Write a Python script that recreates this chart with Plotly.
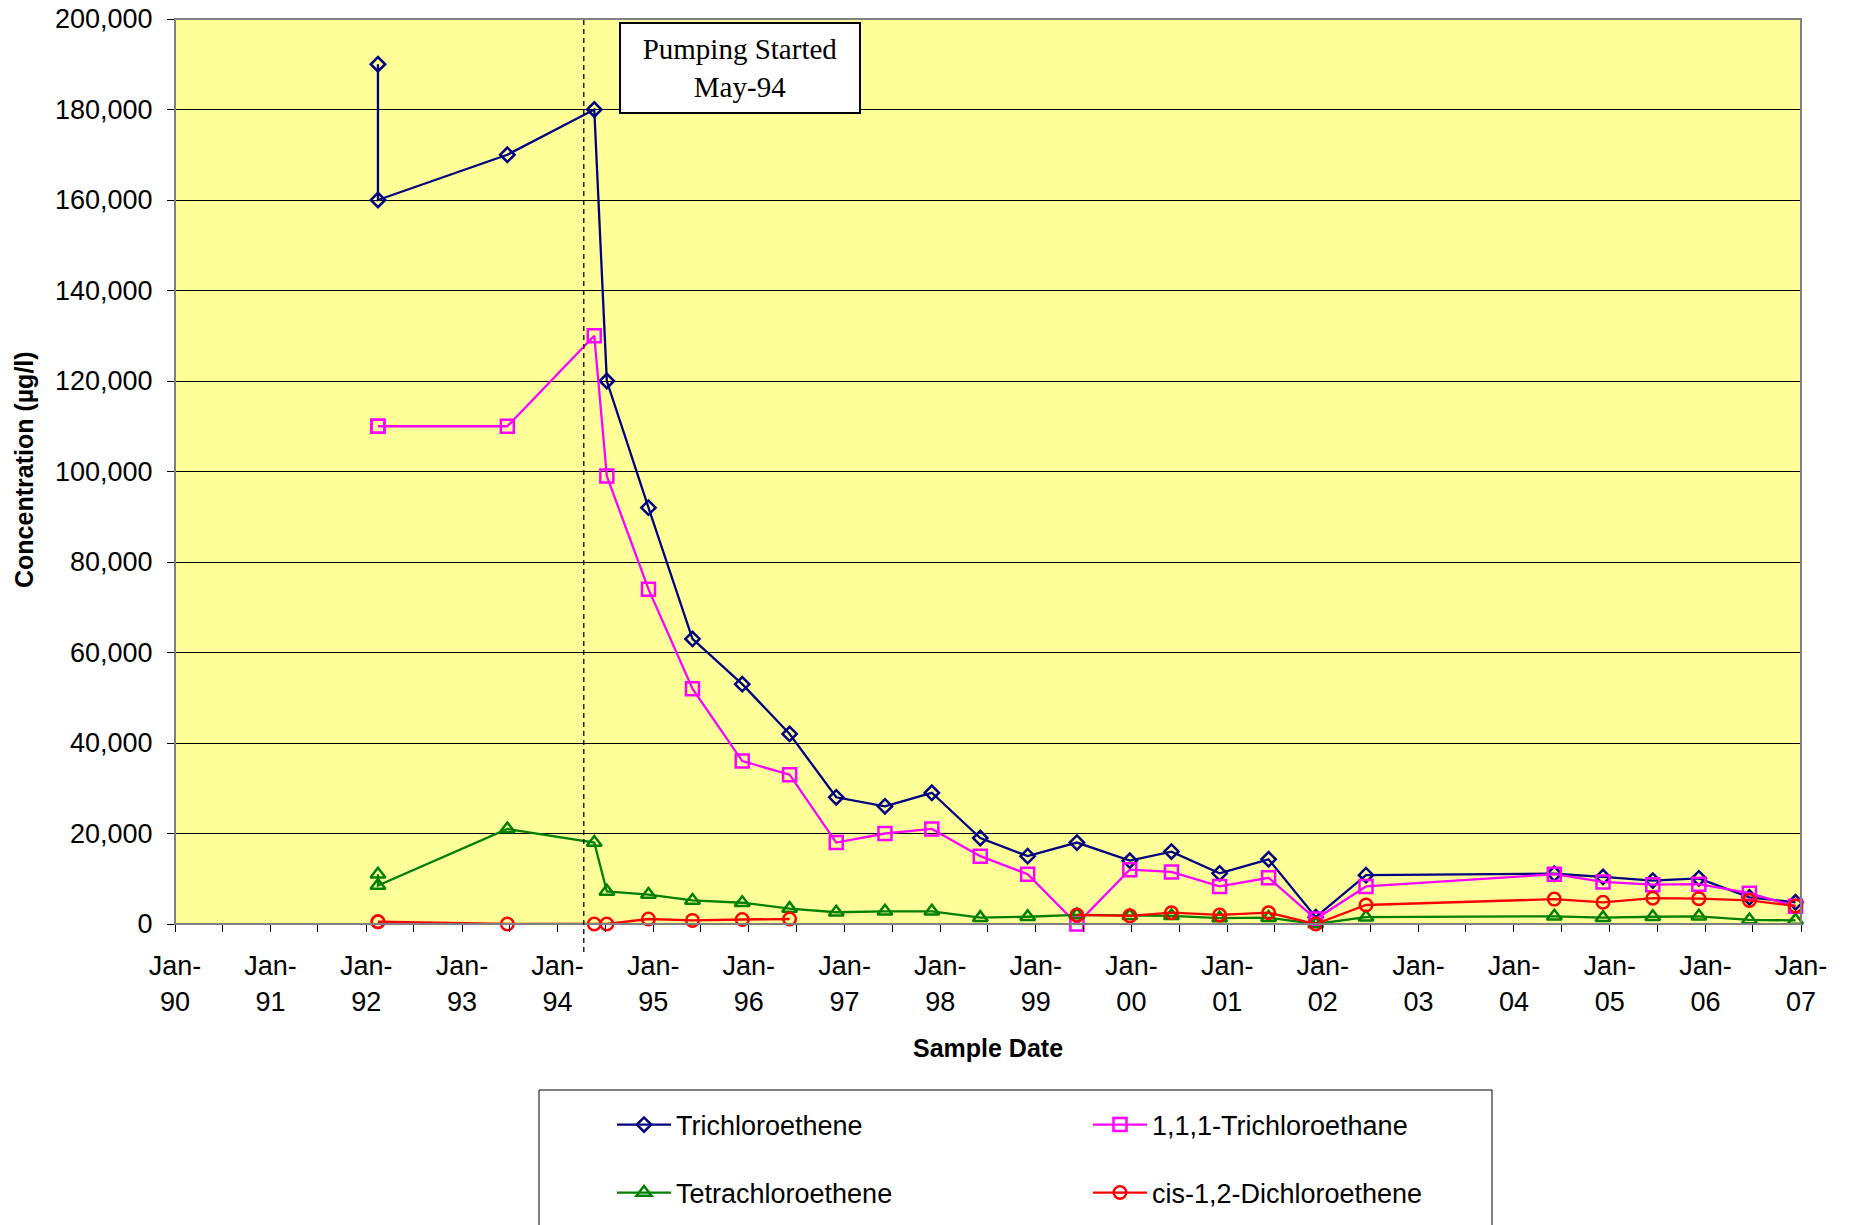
import plotly.graph_objects as go

# ---- data ----
sample_dates = [
    "1992-02-15", "1992-02-15", "1993-06-23", "1994-05-21", "1994-07-08",
    "1994-12-14", "1995-05-31", "1995-12-07", "1996-06-05", "1996-11-30",
    "1997-06-04", "1997-11-30", "1998-06-03", "1998-12-01", "1999-06-07",
    "1999-12-26", "2000-06-02", "2000-12-03", "2001-06-08", "2001-12-05",
    "2002-06-15", "2004-06-03", "2004-12-06", "2005-06-14", "2005-12-07",
    "2006-06-18", "2006-12-11",
]
trichloroethene = [
    190000, 160000, 170000, 180000, 120000,
    92000, 63000, 53000, 42000, 28000,
    26000, 29000, 19000, 15000, 18000,
    14000, 16000, 11200, 14300, 1500,
    10800, 11100, 10400, 9600, 10100,
    5900, 4800,
]
trichloroethane_111 = [
    110000, 110000, 110000, 130000, 99000,
    74000, 52000, 36000, 33000, 18000,
    20000, 21000, 15000, 11000, 0,
    12000, 11500, 8300, 10200, 1100,
    8300, 11000, 9300, 8700, 8800,
    6800, 3900,
]
tetrachloroethene = [
    11000, 8500, 21000, 18000, 7200,
    6500, 5200, 4700, 3400, 2600,
    2800, 2800, 1400, 1600, 2000,
    1800, 1800, 1300, 1400, 0,
    1500, 1700, 1400, 1600, 1700,
    900, 800,
]
cis_12_dichloroethene = [
    500, 500, 0, 0, 0,
    1100, 800, 1000, 1100, None,
    None, None, None, None, 2000,
    1800, 2500, 2000, 2500, 0,
    4200, 5500, 4800, 5700, 5600,
    5200, 4000,
]

series = [
    ("Trichloroethene", trichloroethene, "#000080", "diamond-open", 11, "legend"),
    ("1,1,1-Trichloroethane", trichloroethane_111, "#FF00FF", "square-open", 13, "legend"),
    ("Tetrachloroethene", tetrachloroethene, "#008000", "triangle-up-open", 13, "legend2"),
    ("cis-1,2-Dichloroethene", cis_12_dichloroethene, "#FF0000", "circle-open", 12.5, "legend2"),
]

pumping_date = "1994-04-11"
x_range = ["1990-01-01", "2007-01-01"]
y_range = [0, 200000]

FONT = "Liberation Sans, Arial, sans-serif"

fig = go.Figure()
for name, vals, color, sym, msize, lg in series:
    fig.add_trace(go.Scatter(
        x=sample_dates, y=vals, name=name, mode="lines+markers",
        line=dict(color=color, width=2.3),
        marker=dict(symbol=sym, size=msize, color=color, line=dict(color=color, width=2.5)),
        connectgaps=False, cliponaxis=False, legend=lg,
    ))

# body margin is removed by post_script; target plot area in screen px: x 175..1801, y 19..924
W, H = 1853, 1225
PL, PR, PT, PB = 175, 1801, 19, 924
L, T, R, B = PL, PT, W - PR, H - PB

def py(pix):
    return (PB - pix) / (PB - PT)

def px(pix):
    return (pix - PL) / (PR - PL)

legend_common = dict(orientation="h", xanchor="left", yanchor="middle",
                     entrywidth=407, entrywidthmode="pixels", bgcolor="rgba(0,0,0,0)",
                     font=dict(size=27), itemwidth=54)

fig.update_layout(
    width=W, height=H,
    margin=dict(l=L, r=R, t=T, b=B, autoexpand=False),
    paper_bgcolor="white",
    plot_bgcolor="#FFFF99",
    font=dict(family=FONT, size=26, color="black"),
    showlegend=True,
    legend=dict(x=px(612), y=py(1125), **legend_common),
    legend2=dict(x=px(612), y=py(1193), **legend_common),
    xaxis=dict(
        type="date", range=x_range, dtick="M12", tick0="1990-01-01",
        tickformat="%b-<br>%y", ticks="outside", ticklen=7, tickcolor="black",
        showgrid=False, showline=True, linecolor="black", linewidth=1,
        tickfont=dict(size=27), zeroline=False, ticklabelstandoff=11,
        ticklabeloverflow="allow",
        minor=dict(dtick="M6", ticks="outside", ticklen=7, tickcolor="black", showgrid=False),
    ),
    yaxis=dict(
        range=y_range, dtick=20000, tickformat=",d", ticks="outside", ticklen=7,
        tickcolor="black", showgrid=True, gridcolor="black", gridwidth=1,
        showline=True, linecolor="black", linewidth=1, zeroline=False,
        tickfont=dict(size=27), ticklabelstandoff=9, ticklabeloverflow="allow",
    ),
)

shapes = [
    # plot-area border
    dict(type="rect", xref="paper", yref="paper", x0=0, x1=1, y0=0, y1=1,
         line=dict(color="#808080", width=2), layer="above"),
    # pumping start line
    dict(type="line", xref="x", yref="paper", x0=pumping_date, x1=pumping_date,
         y0=py(952), y1=1, line=dict(color="black", width=1.3, dash="5px,4px")),
    # legend box
    dict(type="rect", xref="paper", yref="paper", x0=px(539), x1=px(1492),
         y0=py(1260), y1=py(1090), line=dict(color="black", width=1)),
]
fig.update_layout(shapes=shapes)

fig.add_annotation(
    xref="paper", yref="paper", x=px(740), y=py(67.5), xanchor="center", yanchor="middle",
    text="Pumping Started<br>May-94", showarrow=False,
    font=dict(family="Liberation Serif, Times New Roman, serif", size=29, color="black"),
    bgcolor="white", bordercolor="black", borderwidth=2, borderpad=3,
    width=232, height=82,
)
fig.add_annotation(
    xref="paper", yref="paper", x=px(988), y=py(1048), xanchor="center", yanchor="middle",
    text="<b>Sample Date</b>", showarrow=False, font=dict(size=25),
)
fig.add_annotation(
    xref="paper", yref="paper", x=px(24), y=py(470), xanchor="center", yanchor="middle",
    text="<b>Concentration (µg/l)</b>", textangle=-90, showarrow=False, font=dict(size=25),
)

fig.write_html("out.html", config={"displayModeBar": False},
               post_script="document.body.style.margin='0px';")
